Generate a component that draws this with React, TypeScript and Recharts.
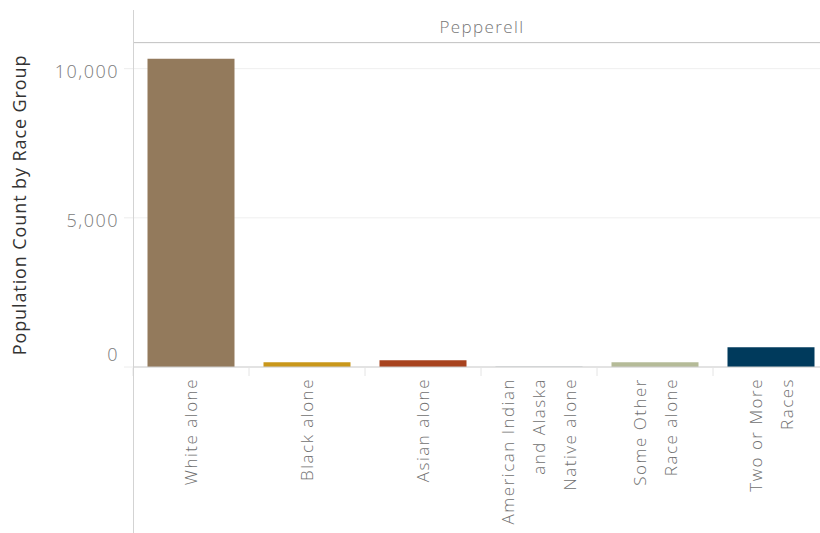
import React from "react";
import { Bar, BarChart, CartesianGrid, Cell, XAxis, YAxis } from "recharts";

const town = "Pepperell";
const yTitle = "Population Count by Race Group";

const categories = [
  "White alone",
  "Black alone",
  "Asian alone",
  "American Indian and Alaska Native alone",
  "Some Other Race alone",
  "Two or More Races",
];

// how each category label wraps on the axis
const categoryLines = [
  ["White alone"],
  ["Black alone"],
  ["Asian alone"],
  ["American Indian", "and Alaska", "Native alone"],
  ["Some Other", "Race alone"],
  ["Two or More", "Races"],
];

const population = [10336, 158, 225, 8, 158, 661];

const barColors = ["#937a5c", "#c9971a", "#a8431f", "#7a8c8e", "#b5bb98", "#003a5c"];

const yTicks = [0, 5000, 10000];

const data = categories.map((name, i) => ({
  name,
  value: population[i],
}));

const FONT = "'Open Sans', sans-serif";

const XTick = (props: any) => {
  const { x, payload } = props;
  const lines = categoryLines[payload.index] || [payload.value];
  const top = 378;
  const gap = 31;
  return (
    <g>
      <line x1={x - 58} x2={x - 58} y1={368} y2={376} stroke="#e4e4e4" />
      {lines.map((line, i) => {
        const off = (i - (lines.length - 1) / 2) * gap;
        return (
          <g key={i} transform={`translate(${x + off}, ${top}) rotate(-90)`}>
            <text
              x={0}
              y={0}
              dy="0.36em"
              textAnchor="end"
              fill="#707070"
              fontSize={17}
              fontWeight={300}
              fontFamily={FONT}
              letterSpacing={1.5}
            >
              {line}
            </text>
          </g>
        );
      })}
    </g>
  );
};

const YTick = (props: any) => {
  const { x, y, payload } = props;
  return (
    <text
      x={x}
      y={y}
      dy={payload.value === 0 ? -13 : 2}
      dominantBaseline="central"
      textAnchor="end"
      fill="#7a7a7a"
      fontSize={18}
      fontWeight={300}
      fontFamily={FONT}
      letterSpacing={1.5}
    >
      {payload.value.toLocaleString("en-US")}
    </text>
  );
};

export default function App() {
  return (
    <div
      style={{
        position: "fixed",
        left: 0,
        top: 0,
        width: 820,
        height: 533,
        overflow: "hidden",
        background: "#fff",
      }}
    >
      <BarChart
        width={829}
        height={533}
        data={data}
        margin={{ top: 43, right: 0, left: 0, bottom: 0 }}
        barCategoryGap="12.5%"
      >
        <CartesianGrid vertical={false} stroke="#efefef" />
        <XAxis
          dataKey="name"
          height={166}
          interval={0}
          tickLine={false}
          axisLine={{ stroke: "#cfcfcf" }}
          tick={<XTick />}
        />
        <YAxis
          width={133}
          domain={[0, 10860]}
          ticks={yTicks}
          tickSize={9}
          tickMargin={5}
          axisLine={false}
          tickLine={{ stroke: "#ececec" }}
          tick={<YTick />}
          label={{
            value: yTitle,
            angle: -90,
            position: "insideLeft",
            offset: 20,
            style: {
              textAnchor: "middle",
              fill: "#333",
              fontSize: 18,
              fontFamily: FONT,
              letterSpacing: 0.9,
            },
          }}
        />
        <Bar dataKey="value" isAnimationActive={false}>
          {data.map((d, i) => (
            <Cell key={d.name} fill={barColors[i]} />
          ))}
        </Bar>
      </BarChart>
      <div
        style={{
          position: "absolute",
          left: 133,
          top: 10,
          width: 1,
          height: 523,
          background: "#d3d3d3",
          pointerEvents: "none",
        }}
      />
      <div
        style={{
          position: "absolute",
          left: 134,
          top: 10,
          width: 696,
          height: 33,
          borderBottom: "1px solid #c8c8c8",
          boxSizing: "border-box",
          textAlign: "center",
          lineHeight: "34px",
          color: "#777",
          fontSize: 17,
          fontWeight: 300,
          fontFamily: FONT,
          letterSpacing: 1.4,
          pointerEvents: "none",
        }}
      >
        {town}
      </div>
    </div>
  );
}
